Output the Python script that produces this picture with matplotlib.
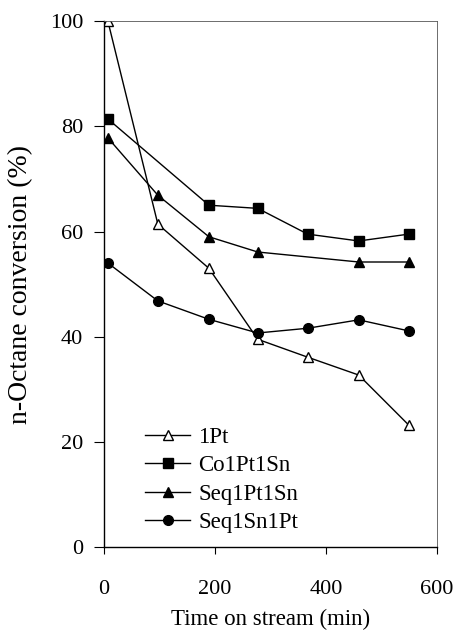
import matplotlib.pyplot as plt

plt.rcParams['font.family'] = ['Liberation Serif', 'DejaVu Serif']

# time on stream (min) and n-octane conversion (%)
t_1pt = [7, 97, 189, 277, 367, 459, 549]
y_1pt = [100, 61.4, 53.0, 39.5, 36.1, 32.7, 23.2]

t_co = [7, 189, 277, 367, 459, 549]
y_co = [81.4, 65.0, 64.4, 59.5, 58.2, 59.5]

t_seqptsn = [7, 97, 189, 277, 459, 549]
y_seqptsn = [77.8, 66.9, 59.0, 56.1, 54.2, 54.2]

t_seqsnpt = [7, 97, 189, 277, 367, 459, 549]
y_seqsnpt = [54.0, 46.8, 43.3, 40.7, 41.6, 43.2, 41.1]

labels = ["1Pt", "Co1Pt1Sn", "Seq1Pt1Sn", "Seq1Sn1Pt"]

fig = plt.figure(figsize=(4.57, 6.32), dpi=100)
ax = fig.add_axes([0.2276, 0.1345, 0.7286, 0.832])

kw = dict(color="black", lw=1.0, markeredgecolor="black")
ax.plot(t_1pt, y_1pt, marker="^", markerfacecolor="white", markersize=7.5, label=labels[0], **kw)
ax.plot(t_co, y_co, marker="s", markerfacecolor="black", markersize=6.5, label=labels[1], **kw)
ax.plot(t_seqptsn, y_seqptsn, marker="^", markerfacecolor="black", markersize=7.5, label=labels[2], **kw)
ax.plot(t_seqsnpt, y_seqsnpt, marker="o", markerfacecolor="black", markersize=7, label=labels[3], **kw)

ax.set_xlim(0, 600)
ax.set_ylim(0, 100)
ax.set_xticks([0, 200, 400, 600])
ax.set_yticks([0, 20, 40, 60, 80, 100])

ax.tick_params(axis="x", direction="out", length=5, labelsize=16, pad=19)
ax.tick_params(axis="y", direction="out", length=7, labelsize=16, pad=8)

for s in ["top", "right"]:
    ax.spines[s].set_linestyle((0, (2, 1)))
    ax.spines[s].set_linewidth(0.6)
    ax.spines[s].set_color("#555555")
for s in ["left", "bottom"]:
    ax.spines[s].set_linewidth(1.0)

ax.set_xlabel("Time on stream (min)", fontsize=16.5)
ax.set_ylabel("n-Octane conversion (%)", fontsize=20)
ax.xaxis.set_label_coords(0.5, -0.118)
ax.yaxis.set_label_coords(-0.212, 0.5)

ax.legend(loc="lower left", bbox_to_anchor=(0.06, -0.012), frameon=False,
          fontsize=16.5, handlelength=2.0, handletextpad=0.35, labelspacing=0.31)

fig.savefig("out.png", dpi=100)
